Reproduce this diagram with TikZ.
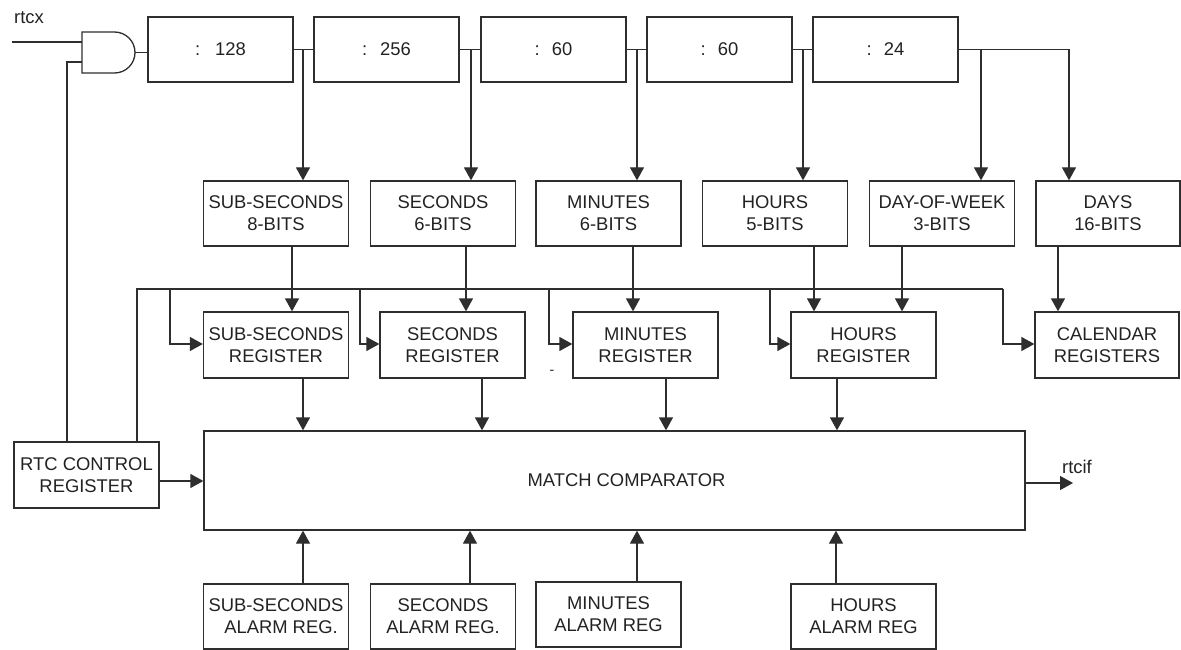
\documentclass[tikz,border=0pt]{standalone}
\usepackage{fontspec}
\setmainfont{Liberation Sans}
\usetikzlibrary{arrows.meta}
\definecolor{ln}{HTML}{2E2E2E}
\definecolor{tx}{HTML}{222222}
\begin{document}
\begin{tikzpicture}[x=1pt,y=-1pt,
  wire/.style={draw=ln, line width=1.3pt},
  arr/.style={wire, -{Triangle[length=13pt,width=14pt]}},
  box/.style={draw=ln, line width=1.3pt, minimum width=145pt, minimum height=65pt,
    inner sep=0pt, align=center, text=tx, font=\fontsize{18.4}{22}\selectfont},
  lbl/.style={text=tx, inner sep=0pt, font=\fontsize{18.4}{22}\selectfont},
]
\useasboundingbox (0,0) rectangle (1181,650);

% prescaler chain
\node[box] (d128) at (220.5,49.5) {:\hspace{15pt}128};
\node[box] (d256) at (386.5,49.5) {:\hspace{13pt}256};
\node[box] (d60a) at (553.5,49.5) {:\hspace{12pt}60};
\node[box] (d60b) at (719.5,49.5) {:\hspace{12pt}60};
\node[box] (d24)  at (885.5,49.5) {:\hspace{12pt}24};

% counters
\node[box] (ssb) at (276,213.5)   {SUB-SECONDS\\8-BITS};
\node[box] (sb)  at (443,213.5)   {SECONDS\\6-BITS};
\node[box] (mb)  at (608.5,213.5) {MINUTES\\6-BITS};
\node[box] (hb)  at (775,213.5)   {HOURS\\5-BITS};
\node[box] (dwb) at (942,213.5)   {DAY-OF-WEEK\\3-BITS};
\node[box, minimum width=144pt] (db) at (1108,213.5) {DAYS\\16-BITS};

% registers
\node[box, minimum height=66pt] (ssr) at (276,345)    {SUB-SECONDS\\REGISTER};
\node[box, minimum height=66pt] (sr)  at (452.5,345)  {SECONDS\\REGISTER};
\node[box, minimum height=66pt] (mr)  at (645.5,345)  {MINUTES\\REGISTER};
\node[box, minimum height=66pt] (hr)  at (863.5,345)  {HOURS\\REGISTER};
\node[box, minimum height=66pt, minimum width=144pt] (cal) at (1107,345) {CALENDAR\\REGISTERS};

% comparator and control
\node[box, minimum width=821pt, minimum height=99pt] (match) at (614.5,480.5) {\hspace*{24pt}MATCH COMPARATOR};
\node[box, minimum height=66pt] (rtc) at (86.5,475) {RTC CONTROL\\REGISTER};

% alarm registers
\node[box] (ssa) at (276,616.5)   {SUB-SECONDS\\\hspace*{10pt}ALARM REG.};
\node[box] (sa)  at (443,616.5)   {SECONDS\\ALARM REG.};
\node[box] (ma)  at (608.5,614.5) {MINUTES\\ALARM REG};
\node[box] (ha)  at (863.5,616.5) {HOURS\\ALARM REG};

% AND gate
\draw[wire] (82,32) -- (114.5,32) arc[start angle=-90, end angle=90, radius=20.5] -- (82,73) -- cycle;
\coordinate (gin1) at (82,42);
\coordinate (gin2) at (82,62);
\coordinate (gout) at (135,52.5);

% signal labels
\node[lbl] (rtcx) at (29,18) {rtcx};
\node[lbl] (rtcif) at (1077,467) {rtcif};
\node[text=tx, inner sep=0pt, font=\fontsize{14}{16}\selectfont] (dash) at (552,372) {-};

% column coordinates
\coordinate (rtcxin) at (12,42);
\coordinate (g2) at (67,62);
\coordinate (t1) at (303,49.5);
\coordinate (t2) at (471,49.5);
\coordinate (t3) at (637,49.5);
\coordinate (t4) at (803,49.5);
\coordinate (t5) at (981,49.5);
\coordinate (t6) at (1069,49.5);
\coordinate (busL) at (137,289);
\coordinate (b1) at (170,289);
\coordinate (b2) at (360,289);
\coordinate (b3) at (549,289);
\coordinate (b4) at (770,289);
\coordinate (busR) at (1003,289);
\coordinate (c1) at (292,0);
\coordinate (c2) at (466,0);
\coordinate (c3) at (633,0);
\coordinate (c4) at (814,0);
\coordinate (c5) at (902,0);
\coordinate (c6) at (1058,0);
\coordinate (m1) at (303,0);
\coordinate (m2) at (482,0);
\coordinate (m3) at (666,0);
\coordinate (m4) at (837,0);
\coordinate (a1) at (303,0);
\coordinate (a2) at (470,0);
\coordinate (a3) at (637,0);
\coordinate (a4) at (836,0);
\coordinate (rtcifend) at (1073,483);

% gate wiring
\draw[wire] (rtcxin) -- (gin1);
\draw[wire] (g2 |- rtc.north) -- (g2) -- (gin2);
\draw[wire] (gout) -- (gout -| d128.west);

% chain
\draw[wire] (d128.east) -- (d256.west);
\draw[wire] (d256.east) -- (d60a.west);
\draw[wire] (d60a.east) -- (d60b.west);
\draw[wire] (d60b.east) -- (d24.west);
\draw[wire] (d24.east) -- (t6);
\draw[arr] (t1) -- (t1 |- ssb.north);
\draw[arr] (t2) -- (t2 |- sb.north);
\draw[arr] (t3) -- (t3 |- mb.north);
\draw[arr] (t4) -- (t4 |- hb.north);
\draw[arr] (t5) -- (t5 |- dwb.north);
\draw[arr] (t6) -- (t6 |- db.north);

% counters to registers
\draw[arr] (ssb.south -| c1) -- (ssr.north -| c1);
\draw[arr] (sb.south -| c2) -- (sr.north -| c2);
\draw[arr] (mb.south -| c3) -- (mr.north -| c3);
\draw[arr] (hb.south -| c4) -- (hr.north -| c4);
\draw[arr] (dwb.south -| c5) -- (hr.north -| c5);
\draw[arr] (db.south -| c6) -- (cal.north -| c6);

% control bus
\draw[wire] (busL |- rtc.north) -- (busL) -- (busR);
\draw[arr] (b1) |- ([yshift=1pt]ssr.west);
\draw[arr] (b2) |- ([yshift=1pt]sr.west);
\draw[arr] (b3) |- ([yshift=1pt]mr.west);
\draw[arr] (b4) |- ([yshift=1pt]hr.west);
\draw[arr] (busR) |- ([yshift=1pt]cal.west);

% registers to comparator
\draw[arr] (ssr.south -| m1) -- (match.north -| m1);
\draw[arr] (sr.south -| m2) -- (match.north -| m2);
\draw[arr] (mr.south -| m3) -- (match.north -| m3);
\draw[arr] (hr.south -| m4) -- (match.north -| m4);

% alarms to comparator
\draw[arr] (ssa.north -| a1) -- (match.south -| a1);
\draw[arr] (sa.north -| a2) -- (match.south -| a2);
\draw[arr] (ma.north -| a3) -- (match.south -| a3);
\draw[arr] (ha.north -| a4) -- (match.south -| a4);

% control and interrupt
\draw[arr] ([yshift=-6pt]rtc.east) -- ([yshift=-6pt]rtc.east -| match.west);
\draw[arr] (match.east |- rtcifend) -- (rtcifend);
\end{tikzpicture}
\end{document}
